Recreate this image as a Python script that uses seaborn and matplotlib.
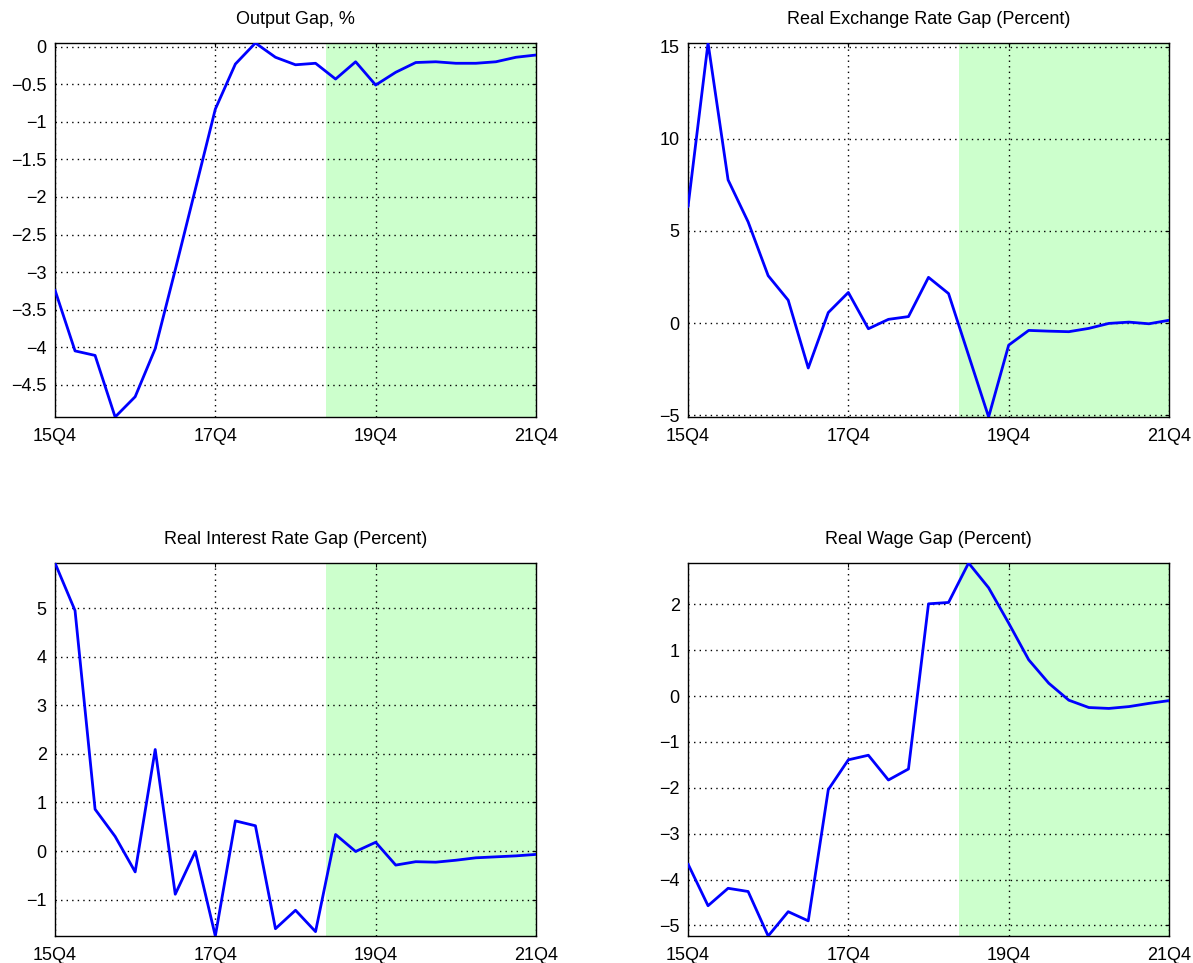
import numpy as np
import pandas as pd
import seaborn as sns
import matplotlib.pyplot as plt
from matplotlib.ticker import FuncFormatter

# quarterly horizon
quarters = ['15Q4', '16Q1', '16Q2', '16Q3', '16Q4', '17Q1', '17Q2', '17Q3', '17Q4',
            '18Q1', '18Q2', '18Q3', '18Q4', '19Q1', '19Q2', '19Q3', '19Q4',
            '20Q1', '20Q2', '20Q3', '20Q4', '21Q1', '21Q2', '21Q3', '21Q4']
tick_labels = ['15Q4', '17Q4', '19Q4', '21Q4']

output_gap = [-3.24, -4.05, -4.11, -4.93, -4.66, -4.02, -2.97, -1.90, -0.83,
              -0.23, 0.05, -0.14, -0.24, -0.22, -0.43, -0.20, -0.51,
              -0.34, -0.21, -0.20, -0.22, -0.22, -0.20, -0.14, -0.11]
rer_gap = [6.31, 15.2, 7.77, 5.49, 2.57, 1.24, -2.44, 0.57, 1.66,
           -0.31, 0.20, 0.35, 2.48, 1.60, -1.75, -5.1, -1.20,
           -0.40, -0.44, -0.47, -0.29, -0.02, 0.05, -0.04, 0.15]
rir_gap = [5.93, 4.95, 0.86, 0.30, -0.43, 2.09, -0.89, -0.01, -1.75,
           0.62, 0.52, -1.60, -1.22, -1.66, 0.34, -0.01, 0.18,
           -0.29, -0.22, -0.23, -0.19, -0.14, -0.12, -0.10, -0.07]
wage_gap = [-3.66, -4.57, -4.19, -4.26, -5.23, -4.70, -4.90, -2.04, -1.39,
            -1.29, -1.83, -1.59, 2.01, 2.04, 2.90, 2.36, 1.59,
            0.79, 0.28, -0.09, -0.25, -0.27, -0.23, -0.16, -0.10]

titles = ['Output Gap, %', 'Real Exchange Rate Gap (Percent)',
          'Real Interest Rate Gap (Percent)', 'Real Wage Gap (Percent)']
series = [output_gap, rer_gap, rir_gap, wage_gap]
yticks = [np.arange(-4.5, 0.01, 0.5), [-5, 0, 5, 10, 15],
          [-1, 0, 1, 2, 3, 4, 5], [-5, -4, -3, -2, -1, 0, 1, 2]]
forecast_start = 13.5

sns.set_theme(style='white')
plt.rcParams['font.family'] = ['Liberation Sans', 'DejaVu Sans']
plt.rcParams['axes.unicode_minus'] = True
plt.rcParams['text.color'] = 'black'
plt.rcParams['xtick.color'] = 'black'
plt.rcParams['ytick.color'] = 'black'
plt.rcParams['axes.titlecolor'] = 'black'

fig = plt.figure(figsize=(11.93, 9.63), dpi=100)
W, H = 1193, 963
boxes = [(55, 43, 536, 417), (688, 43, 1169, 417),
         (55, 563, 536, 936), (688, 563, 1169, 936)]

fmt = FuncFormatter(lambda v, p: ('%g' % round(v, 2)).replace('-', '\u2212'))

for (l, t, r, b), title, vals, yt in zip(boxes, titles, series, yticks):
    ax = fig.add_axes([l / W, 1 - b / H, (r - l) / W, (b - t) / H])
    df = pd.DataFrame({'q': np.arange(len(quarters)), 'v': vals})
    ax.axvspan(forecast_start, len(quarters) - 1, color='#ccffcc', zorder=0, lw=0)
    sns.lineplot(data=df, x='q', y='v', ax=ax, color='#0000ff', lw=2.0, zorder=3)
    ax.set_xlim(0, len(quarters) - 1)
    ax.set_ylim(min(vals), max(vals))
    ax.set_xticks([quarters.index(q) for q in tick_labels])
    ax.set_xticklabels(tick_labels)
    ax.set_yticks(yt)
    ax.yaxis.set_major_formatter(fmt)
    ax.set_xlabel('')
    ax.set_ylabel('')
    ax.set_title(title, fontsize=13, pad=14, color='black')
    ax.grid(True, color='black', linestyle=(0, (1, 3)), linewidth=1.0)
    ax.set_axisbelow('line')
    ax.tick_params(direction='in', length=3, width=0.8, labelsize=13,
                   top=True, right=True, pad=6, color='black', labelcolor='black')
    ax.tick_params(axis='x', pad=8)
    for s in ax.spines.values():
        s.set_color('black')
        s.set_linewidth(1.0)

fig.savefig('out.png', dpi=100)
